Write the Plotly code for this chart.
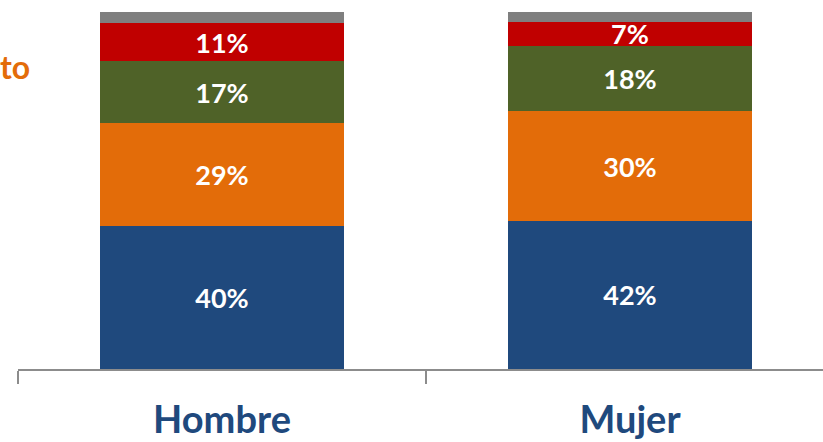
import plotly.graph_objects as go

categories = ["Hombre", "Mujer"]
series_names = ["s1", "s2", "s3", "s4", "s5"]
values_blue = [40.1, 41.5]
values_orange = [28.8, 30.7]
values_green = [17.3, 18.2]
values_red = [10.6, 6.9]
values_gray = [3.2, 2.7]
labels_blue = ["40%", "42%"]
labels_orange = ["29%", "30%"]
labels_green = ["17%", "18%"]
labels_red = ["11%", "7%"]
labels_gray = ["", ""]

colors = ["#1F497D", "#E36C09", "#4F6228", "#C00000", "#7F7F7F"]
all_vals = [values_blue, values_orange, values_green, values_red, values_gray]
all_labels = [labels_blue, labels_orange, labels_green, labels_red, labels_gray]

FONT = "Lato, 'Open Sans', sans-serif"

fig = go.Figure()
for name, vals, labs, col in zip(series_names, all_vals, all_labels, colors):
    fig.add_trace(go.Bar(
        x=categories, y=vals, name=name, text=labs,
        marker=dict(color=col, line=dict(width=0)),
        textposition="inside", insidetextanchor="middle",
        constraintext="none", textangle=0,
        textfont=dict(family=FONT, size=27, color="white", weight="bold"),
        hoverinfo="skip",
    ))

W, H = 823, 442
ml, mr, mt, mb = 18, 0, 12, 73
pw = W - ml - mr
ph = H - mt - mb
px_per_cat = 408.0
x1 = -0.5 + pw / px_per_cat

fig.update_layout(
    barmode="stack",
    bargap=0.404,
    width=W, height=H,
    margin=dict(l=ml, r=mr, t=mt, b=mb, pad=0, autoexpand=False),
    paper_bgcolor="white", plot_bgcolor="white",
    showlegend=False,
    xaxis=dict(
        range=[-0.5, x1], showline=True, linecolor="#8C8C8C", linewidth=2,
        ticks="outside", tickson="boundaries", ticklen=13, tickcolor="#8C8C8C", tickwidth=2,
        ticklabelstandoff=16, automargin=False,
        tickfont=dict(family=FONT, size=38, color="#1F497D", weight="bold"),
        showgrid=False, zeroline=False, fixedrange=True,
    ),
    yaxis=dict(range=[0, 100], visible=False, showgrid=False, zeroline=False,
               fixedrange=True, automargin=False),
    annotations=[dict(
        text="to", xref="paper", yref="paper",
        x=(32 - ml) / pw, y=(369 - 66) / ph,
        xanchor="right", yanchor="middle", showarrow=False,
        font=dict(family=FONT, size=32, color="#E36C09", weight="bold"),
    )],
)

fig.write_html(
    "out.html",
    config={"displayModeBar": False},
    post_script="document.body.style.margin='0';document.body.style.overflow='hidden';",
)
